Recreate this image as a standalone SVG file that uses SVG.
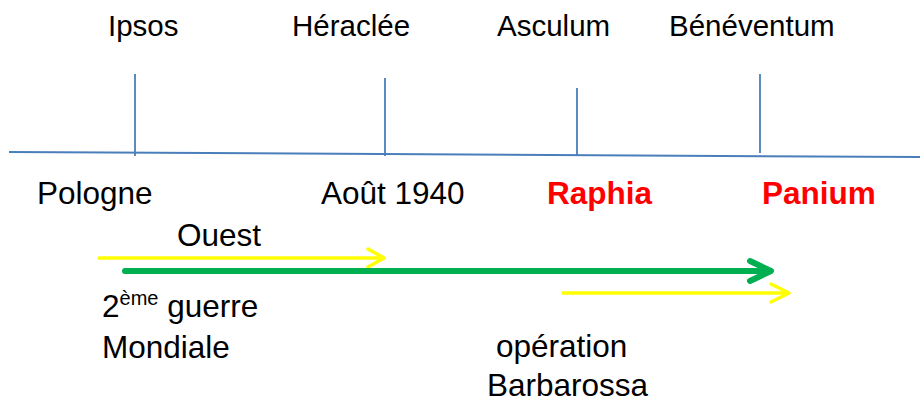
<svg xmlns="http://www.w3.org/2000/svg" width="920" height="403" viewBox="0 0 920 403">
<style>
text{font-family:"Liberation Sans",Arial,sans-serif;font-size:31.5px;fill:#000}
.top{font-size:29.5px}
.red{fill:#ff0000;font-weight:bold}
.axis{stroke:#4a7ebb;stroke-width:2;fill:none}
.tick{stroke:#4a7ebb;stroke-width:1.8;fill:none}
.yel{stroke:#ffff00;stroke-width:3.5;fill:none;stroke-linecap:round;stroke-linejoin:round}
.grn{stroke:#00b050;stroke-width:6;fill:none;stroke-linecap:round;stroke-linejoin:round}
</style>
<rect width="920" height="403" fill="#fff"/>
<g id="connectors">
<path class="axis" d="M9 152 L920 157"/>
<path class="tick" d="M135 74 V156"/>
<path class="tick" d="M385 78 V156"/>
<path class="tick" d="M577 88 V155"/>
<path class="tick" d="M760 74 V153"/>
<path class="yel" d="M99 258 H383 M368 249 L384 258 L368 267"/>
<path class="grn" d="M125 271 H769 M750 261 L771 271 L750 281"/>
<path class="yel" d="M563 293 H788 M771 284 L789 293 L771 302"/>
</g>
<g id="top-labels">
<text id="ipsos" class="top" x="108" y="36">Ipsos</text>
<text id="heraclee" class="top" x="292" y="36">Héraclée</text>
<text id="asculum" class="top" x="497" y="36">Asculum</text>
<text id="beneventum" class="top" x="669" y="36">Bénéventum</text>
</g>
<g id="bottom-labels">
<text id="pologne" x="37" y="204">Pologne</text>
<text id="aout" x="321" y="204">Août 1940</text>
<text id="raphia" class="red" x="547" y="204">Raphia</text>
<text id="panium" class="red" x="762" y="204">Panium</text>
</g>
<g id="ouest"><text x="177" y="246">Ouest</text></g>
<g id="guerre"><text x="102" y="317">2<tspan font-size="20" dy="-12">ème</tspan><tspan dy="12"> guerre</tspan></text>
<text x="102" y="358">Mondiale</text></g>
<g id="barbarossa"><text x="496" y="357">opération</text>
<text x="487" y="396">Barbarossa</text></g>
</svg>
